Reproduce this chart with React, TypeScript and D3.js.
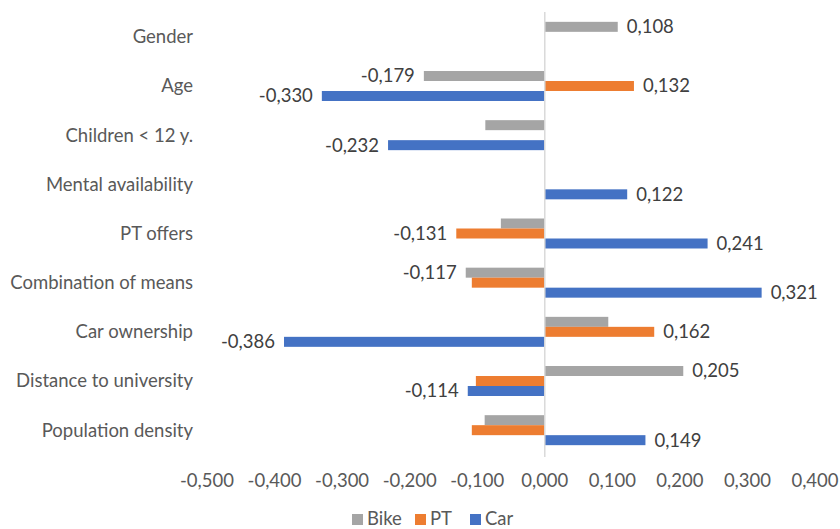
import * as React from 'react';
import * as d3 from 'd3';

const categories = [
  'Gender',
  'Age',
  'Children < 12 y.',
  'Mental availability',
  'PT offers',
  'Combination of means',
  'Car ownership',
  'Distance to university',
  'Population density',
];

const seriesNames = ['Bike', 'PT', 'Car'];
const seriesColors = ['#a5a5a5', '#ed7d31', '#4472c4'];

const bikeValues = [0.108, -0.179, -0.088, 0, -0.065, -0.117, 0.094, 0.205, -0.089];
const ptValues = [0, 0.132, 0, 0, -0.131, -0.108, 0.162, -0.102, -0.108];
const carValues = [0, -0.330, -0.232, 0.122, 0.241, 0.321, -0.386, -0.114, 0.149];

// only the significant coefficients carry a label in the original
const bikeLabelled = [true, true, false, false, false, true, false, true, false];
const ptLabelled = [false, true, false, false, true, false, true, false, false];
const carLabelled = [false, true, true, true, true, true, true, true, true];

const xTicks = [-0.5, -0.4, -0.3, -0.2, -0.1, 0, 0.1, 0.2, 0.3, 0.4];

const W = 840;
const H = 529;
const FONT = 'Lato, "Open Sans", sans-serif';
const FS = 18.5;

const locale = d3.formatLocale({
  decimal: ',',
  thousands: '.',
  grouping: [3],
  currency: ['', ''],
  minus: '-',
});
const fmt = locale.format('.3f');

const App: React.FC = () => {
  const x = d3.scaleLinear().domain([-0.5, 0.4]).range([207, 815]);
  const y = d3.scaleBand<string>().domain(categories).range([12, 455]).paddingInner(0.39).paddingOuter(0.2);
  const ySub = d3.scaleBand<string>().domain(seriesNames).range([0, y.bandwidth()]).padding(0);

  const allValues = [bikeValues, ptValues, carValues];
  const allLabelled = [bikeLabelled, ptLabelled, carLabelled];

  const bars = categories.flatMap((c, i) =>
    seriesNames.map((s, j) => ({
      cat: c,
      series: s,
      value: allValues[j][i],
      labelled: allLabelled[j][i],
      color: seriesColors[j],
    }))
  );

  const legendX = [352, 415, 470];
  const legendItems = seriesNames.map((s, j) => ({ name: s, color: seriesColors[j] }));

  return (
    <svg width={W} height={H} style={{ position: 'absolute', left: 0, top: 0, background: '#fff' }} fontFamily={FONT}>
      {bars.filter(b => b.value !== 0).map(b => {
        const y0 = (y(b.cat) ?? 0) + (ySub(b.series) ?? 0);
        const x0 = Math.min(x(0), x(b.value));
        const w = Math.abs(x(b.value) - x(0));
        return <rect key={b.cat + b.series} x={x0} y={y0} width={w} height={ySub.bandwidth()} fill={b.color} />;
      })}
      <line x1={x(0)} x2={x(0)} y1={12} y2={457} stroke="#d9d9d9" strokeWidth={1.5} />
      {bars.filter(b => b.labelled).map(b => {
        const yc = (y(b.cat) ?? 0) + (ySub(b.series) ?? 0) + ySub.bandwidth() / 2;
        const pos = b.value > 0;
        return (
          <text key={'l' + b.cat + b.series} x={x(b.value) + (pos ? 9 : -9)} y={yc} dy="0.35em"
            textAnchor={pos ? 'start' : 'end'} fontSize={FS} fill="#404040">
            {fmt(b.value)}
          </text>
        );
      })}
      {categories.map(c => (
        <text key={c} x={193} y={(y(c) ?? 0) + y.bandwidth() / 2} dy="0.35em" textAnchor="end" fontSize={FS} fill="#595959">
          {c}
        </text>
      ))}
      {xTicks.map(t => (
        <text key={t} x={x(t)} y={481} dy="0.35em" textAnchor="middle" fontSize={FS} fill="#595959">
          {fmt(t)}
        </text>
      ))}
      {legendItems.map((d, i) => (
        <g key={d.name} transform={`translate(${legendX[i]},519)`}>
          <rect x={0} y={-5} width={11} height={11} fill={d.color} />
          <text x={15} y={0} dy="0.35em" fontSize={FS} fill="#595959">{d.name}</text>
        </g>
      ))}
    </svg>
  );
};

export default App;
